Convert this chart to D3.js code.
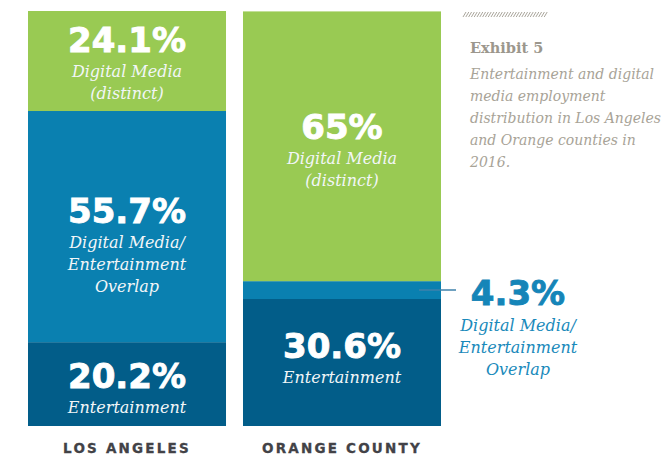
<!DOCTYPE html>
<html>
<head>
<meta charset="utf-8">
<script src="https://cdn.jsdelivr.net/npm/d3@7"></script>
<style>
  body { margin: 0; background: #fff; }
  svg { display: block; }
</style>
</head>
<body>
<svg width="664" height="459"></svg>
<script>
// values (percent of each county's employment)
const regions = ["LOS ANGELES", "ORANGE COUNTY"];
const segmentKeys = ["entertainment", "overlap", "digital"];
const entertainment = [20.2, 30.6];
const overlap = [55.7, 4.3];
const digitalMedia = [24.1, 65];
const segmentLabels = {
  entertainment: ["Entertainment"],
  overlap: ["Digital Media/", "Entertainment", "Overlap"],
  digital: ["Digital Media", "(distinct)"]
};
const titleText = "Exhibit 5";
const captionLines = [
  "Entertainment and digital",
  "media employment",
  "distribution in Los Angeles",
  "and Orange counties in",
  "2016."
];

var colors = { entertainment: "#025d89", overlap: "#0a80b0", digital: "#99ca53" };
// small vertical tweaks for the in-bar labels [region][segment]
var nudge = [[2, 16, 0], [-7, 0, 2]];

var svg = d3.select("svg"),
  numFont = "'DejaVu Sans', sans-serif",
  serif = "'DejaVu Serif', serif";

var rows = regions.map(function (r, i) {
  return { region: r, entertainment: entertainment[i], overlap: overlap[i], digital: digitalMedia[i] };
});
var series = d3.stack().keys(segmentKeys)(rows);

var x = d3.scaleBand().domain(regions).range([28, 441]).paddingInner(0.079).paddingOuter(0);
var y = d3.scaleLinear().domain([0, 100]).range([426, 11]);

var g = svg.append("g");

g.selectAll("g.seg")
  .data(series)
  .enter().append("g")
  .attr("class", "seg")
  .attr("fill", function (d) { return colors[d.key]; })
  .selectAll("rect")
  .data(function (d) { return d; })
  .enter().append("rect")
  .attr("x", function (d) { return x(d.data.region); })
  .attr("y", function (d) { return y(d[1]); })
  .attr("width", x.bandwidth())
  .attr("height", function (d) { return y(d[0]) - y(d[1]); });

// labels
series.forEach(function (s, si) {
  s.forEach(function (d, ri) {
    var lines = segmentLabels[s.key];
    var value = d[1] - d[0];
    var top = y(d[1]), bottom = y(d[0]);
    var inside = bottom - top > 60;
    var cx, base, color, sub;
    if (inside) {
      cx = x(d.data.region) + x.bandwidth() / 2;
      base = (top + bottom) / 2 - lines.length * 11 + 13 + nudge[ri][si];
      color = "#fff";
      sub = "#f2f6f8";
    } else {
      var mid = (top + bottom) / 2;
      g.append("line")
        .attr("x1", x(d.data.region) + x.bandwidth() - 22)
        .attr("x2", x(d.data.region) + x.bandwidth() + 15)
        .attr("y1", mid).attr("y2", mid)
        .attr("stroke", "#3f82ab")
        .attr("stroke-width", 1.5);
      cx = 518;
      base = mid + 15;
      color = "#1585b8";
      sub = "#1a8abb";
    }
    g.append("text")
      .attr("x", cx).attr("y", base)
      .attr("text-anchor", "middle")
      .attr("font-family", numFont)
      .attr("font-weight", "bold")
      .attr("font-size", 34)
      .attr("fill", color)
      .attr("stroke", color)
      .attr("stroke-width", 0.9)
      .text(d3.format(".1~f")(value) + "%");
    lines.forEach(function (t, li) {
      g.append("text")
        .attr("x", cx)
        .attr("y", base + 25 + li * 22 + (inside ? 0 : 1))
        .attr("text-anchor", "middle")
        .attr("font-family", serif)
        .attr("font-style", "italic")
        .attr("font-size", 16)
        .attr("fill", sub)
        .text(t);
    });
  });
});

// category labels under the bars
g.selectAll("text.cat")
  .data(regions)
  .enter().append("text")
  .attr("class", "cat")
  .attr("x", function (d) { return x(d) + x.bandwidth() / 2; })
  .attr("y", 453)
  .attr("text-anchor", "middle")
  .attr("font-family", numFont)
  .attr("font-weight", "bold")
  .attr("font-size", 13.5)
  .attr("letter-spacing", 2.2)
  .attr("fill", "#424247")
  .attr("stroke", "#424247")
  .attr("stroke-width", 0.3)
  .text(function (d) { return d; });

// hatched rule above the caption
svg.append("g")
  .attr("stroke", "#aaa69c")
  .attr("stroke-width", 1)
  .selectAll("line")
  .data(d3.range(463, 546, 2.8))
  .enter().append("line")
  .attr("x1", function (d) { return d; })
  .attr("x2", function (d) { return d + 3; })
  .attr("y1", 17).attr("y2", 12);

svg.append("text")
  .attr("x", 470).attr("y", 53)
  .attr("font-family", serif)
  .attr("font-weight", "bold")
  .attr("font-size", 14.5)
  .attr("fill", "#9c978d")
  .text(titleText);

svg.append("g")
  .selectAll("text")
  .data(captionLines)
  .enter().append("text")
  .attr("x", 470)
  .attr("y", function (d, i) { return 79 + i * 22; })
  .attr("font-family", serif)
  .attr("font-style", "italic")
  .attr("font-size", 14)
  .attr("fill", "#a8a397")
  .text(function (d) { return d; });
</script>
</body>
</html>
